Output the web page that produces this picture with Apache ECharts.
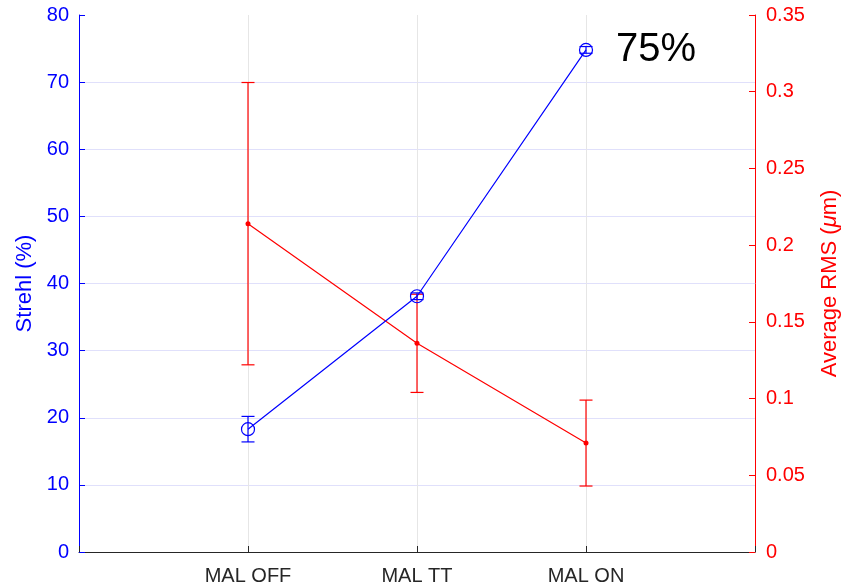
<!DOCTYPE html>
<html>
<head>
<meta charset="utf-8">
<script src="https://cdn.jsdelivr.net/npm/echarts@6/dist/echarts.min.js"></script>
<style>
html,body{margin:0;padding:0;background:#fff;}
#chart{width:843px;height:587px;}
</style>
</head>
<body>
<div id="chart"></div>
<script>
const categories = ['MAL OFF', 'MAL TT', 'MAL ON'];
const strehl = [18.3, 38.1, 74.8];
const strehlErr = [1.9, 0.5, 0.5];
const rms = [0.214, 0.136, 0.071];
const rmsErr = [0.092, 0.032, 0.028];
const annotation = '75%';

const FONT = '"Liberation Sans", Arial, Helvetica, sans-serif';
const BLUE = '#0000ff';
const RED = '#ff0000';

const strehlPts = strehl.map((v, i) => [i + 1, v]);
const rmsPts = rms.map((v, i) => [i + 1, v]);
const strehlBars = strehl.map((v, i) => [i + 1, v - strehlErr[i], v + strehlErr[i]]);
const rmsBars = rms.map((v, i) => [i + 1, v - rmsErr[i], v + rmsErr[i]]);

function errRender(color) {
  return function (params, api) {
    const x = api.value(0);
    const lo = api.coord([x, api.value(1)]);
    const hi = api.coord([x, api.value(2)]);
    const w = 6.5;
    const st = { stroke: color, lineWidth: 1.2 };
    return {
      type: 'group',
      children: [
        { type: 'line', shape: { x1: lo[0], y1: lo[1], x2: hi[0], y2: hi[1] }, style: st },
        { type: 'line', shape: { x1: lo[0] - w, y1: lo[1], x2: lo[0] + w, y2: lo[1] }, style: st },
        { type: 'line', shape: { x1: hi[0] - w, y1: hi[1], x2: hi[0] + w, y2: hi[1] }, style: st }
      ]
    };
  };
}

const chart = echarts.init(document.getElementById('chart'));
chart.setOption({
  animation: false,
  backgroundColor: '#fff',
  grid: { left: 79, right: 88, top: 15, bottom: 35, containLabel: false, outerBoundsMode: 'none' },
  xAxis: {
    type: 'value', min: 0, max: 4, interval: 1,
    axisLine: { lineStyle: { color: '#262626', width: 1 } },
    axisTick: { inside: true, length: 6, lineStyle: { color: '#262626' } },
    axisLabel: {
      color: '#262626', fontSize: 20, fontFamily: FONT, margin: 14,
      formatter: v => categories[v - 1] || ''
    },
    splitLine: { show: true, lineStyle: { color: '#e6e6e6', width: 1 } }
  },
  yAxis: [
    {
      type: 'value', min: 0, max: 80, interval: 10, position: 'left',
      name: 'Strehl (%)', nameLocation: 'middle', nameRotate: 90, nameGap: 42,
      nameTextStyle: { color: BLUE, fontSize: 22, fontFamily: FONT },
      axisLine: { show: true, lineStyle: { color: BLUE, width: 1 } },
      axisTick: { show: true, inside: true, length: 6, lineStyle: { color: BLUE } },
      axisLabel: { color: BLUE, fontSize: 20, fontFamily: FONT, margin: 10 },
      splitLine: { show: true, showMaxLine: false, lineStyle: { color: '#e0e0fb', width: 1 } }
    },
    {
      type: 'value', min: 0, max: 0.35, interval: 0.05, position: 'right',
      name: 'Average RMS ({it|μ}m)', nameLocation: 'middle', nameRotate: 90, nameGap: 64,
      nameTextStyle: { color: RED, fontSize: 22, fontFamily: FONT,
        rich: { it: { fontStyle: 'italic', color: RED, fontSize: 22, fontFamily: FONT } } },
      axisLine: { show: true, lineStyle: { color: RED, width: 1 } },
      axisTick: { show: true, inside: true, length: 6, lineStyle: { color: RED } },
      axisLabel: { color: RED, fontSize: 20, fontFamily: FONT, margin: 11,
        formatter: v => String(+v.toFixed(2)) },
      splitLine: { show: false }
    }
  ],
  series: [
    {
      type: 'custom', xAxisIndex: 0, yAxisIndex: 1, data: rmsBars,
      encode: { x: 0, y: [1, 2] }, renderItem: errRender(RED), z: 2
    },
    {
      type: 'line', xAxisIndex: 0, yAxisIndex: 1, data: rmsPts,
      lineStyle: { color: RED, width: 1.2 }, itemStyle: { color: RED },
      symbol: 'circle', symbolSize: 5, showAllSymbol: true, z: 3
    },
    {
      type: 'custom', xAxisIndex: 0, yAxisIndex: 0, data: strehlBars,
      encode: { x: 0, y: [1, 2] }, renderItem: errRender(BLUE), z: 4
    },
    {
      type: 'line', xAxisIndex: 0, yAxisIndex: 0,
      data: strehlPts.map((p, i) => i === strehlPts.length - 1
        ? { value: p, label: { show: true, position: 'right', distance: 23, formatter: annotation,
            color: '#000', fontSize: 40, fontFamily: FONT } }
        : p),
      lineStyle: { color: BLUE, width: 1.2 },
      itemStyle: { color: 'rgba(255,255,255,0)', borderColor: BLUE, borderWidth: 1.2 },
      symbol: 'circle', symbolSize: 13, showAllSymbol: true, z: 5
    }
  ]
});
</script>
</body>
</html>
